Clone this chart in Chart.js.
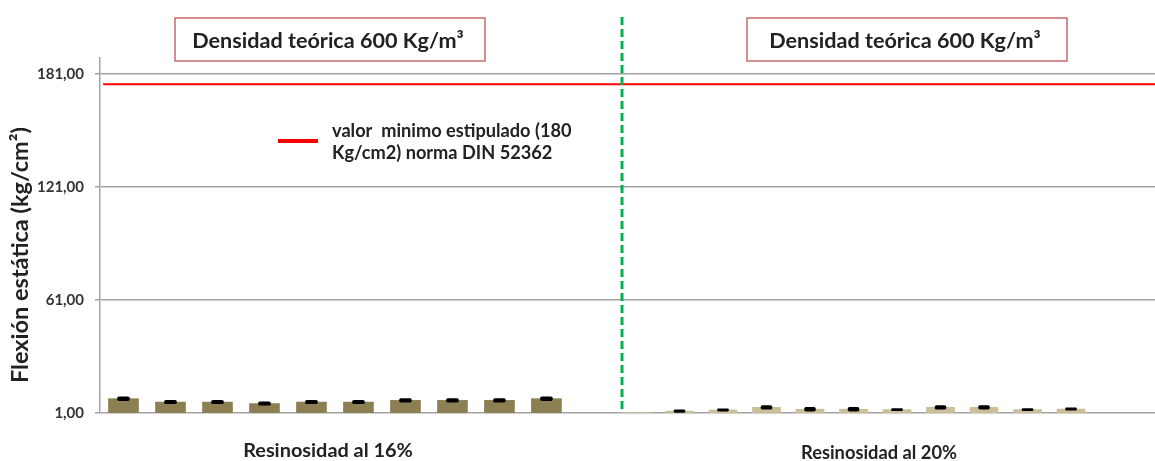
<!DOCTYPE html>
<html>
<head>
<meta charset="utf-8">
<script src="https://cdn.jsdelivr.net/npm/chart.js@4"></script>
<style>
  html, body { margin: 0; padding: 0; background: #fff; overflow: hidden; }
  #wrap { width: 1155px; height: 461px; position: relative; }
</style>
</head>
<body>
<div id="wrap"><canvas id="myChart"></canvas></div>
<script>
// muestras con resinosidad al 16% y al 20%
let samples16 = ["1", "2", "3", "4", "5", "6", "7", "8", "9", "10"];
let flexion16 = [8.6, 6.8, 6.8, 6.0, 6.8, 6.8, 7.7, 7.7, 7.7, 8.6];
let error16 = [1.0, 0.9, 0.9, 0.9, 0.9, 0.9, 0.9, 0.9, 0.9, 1.0];

let samples20 = ["1", "2", "3", "4", "5", "6", "7", "8", "9", "10", "11"];
let flexion20 = [1.3, 2.0, 2.6, 4.0, 3.0, 3.0, 2.8, 4.0, 4.0, 2.8, 3.1];
let error20 = [null, 0.7, 0.6, 1.0, 1.0, 1.0, 0.6, 1.0, 1.0, 0.6, 0.6];

let yTicks = [1, 61, 121, 181];
let minNorma = 175.5;

let groupLabels = ["Resinosidad al 16%", "Resinosidad al 20%"];
let headerText = "Densidad teórica 600 Kg/m³";
let legendLines = ["valor  minimo estipulado (180", "Kg/cm2) norma DIN 52362"];
let yTitle = "Flexión estática (kg/cm²)";

const FONT = "Lato, 'Open Sans', sans-serif";

// ajusta el tamaño de letra para que el texto ocupe un ancho dado
function fitFont(ctx, text, width) {
  ctx.font = "bold 20px " + FONT;
  let s = 20 * width / ctx.measureText(text).width;
  ctx.font = "bold " + s.toFixed(1) + "px " + FONT;
}

function errorData(values, errors) {
  return values.map((v, i) => ({x: i + 1, y: errors[i] == null ? null : [v - errors[i], v + errors[i]]}));
}

const extras = {
  id: 'extras',
  afterDraw(chart) {
    const ctx = chart.ctx;
    ctx.save();
    ctx.fillStyle = '#222';

    // cajas de titulo
    [[175, 18, 310, 43], [747, 18, 320, 43]].forEach(b => {
      ctx.strokeStyle = '#c96b6b';
      ctx.lineWidth = 1.5;
      ctx.strokeRect(b[0], b[1], b[2], b[3]);
      fitFont(ctx, headerText, 272);
      ctx.textAlign = 'center';
      ctx.textBaseline = 'middle';
      ctx.fillText(headerText, b[0] + b[2] / 2 - 2, 41);
    });

    // linea divisoria verde
    ctx.strokeStyle = '#00b050';
    ctx.lineWidth = 3;
    ctx.setLineDash([8, 4]);
    ctx.beginPath();
    ctx.moveTo(622, 17);
    ctx.lineTo(622, 410);
    ctx.stroke();
    ctx.setLineDash([]);

    // leyenda
    ctx.strokeStyle = 'red';
    ctx.lineWidth = 4;
    ctx.beginPath();
    ctx.moveTo(278, 141);
    ctx.lineTo(318, 141);
    ctx.stroke();
    fitFont(ctx, legendLines[0], 240);
    ctx.textAlign = 'left';
    ctx.fillText(legendLines[0], 332, 131);
    ctx.fillText(legendLines[1], 332, 153);

    // etiquetas de grupo
    ctx.textAlign = 'center';
    fitFont(ctx, groupLabels[0], 170);
    ctx.fillText(groupLabels[0], 328, 451);
    fitFont(ctx, groupLabels[1], 156);
    ctx.fillText(groupLabels[1], 879, 453);

    // titulo eje y
    ctx.translate(20, 255);
    ctx.rotate(-Math.PI / 2);
    fitFont(ctx, yTitle, 256);
    ctx.fillText(yTitle, 0, 0);
    ctx.restore();
  }
};

// eje x oculto (sin offset) para cada grupo
function hiddenX(min, max) {
  return { type: 'linear', position: 'bottom', display: false, offset: false, grid: { offset: false }, min: min, max: max };
}

let ctx = document.getElementById('myChart').getContext('2d');

const myChart = new Chart(ctx, {
  type: 'bar',
  data: {
    datasets: [
      {
        label: 'error 16%',
        data: errorData(flexion16, error16),
        xAxisID: 'xL',
        backgroundColor: '#000',
        maxBarThickness: 12,
        borderRadius: 3,
        borderSkipped: false,
        order: 0
      },
      {
        label: 'error 20%',
        data: errorData(flexion20, error20),
        xAxisID: 'xR',
        backgroundColor: '#000',
        maxBarThickness: 11,
        borderRadius: 3,
        borderSkipped: false,
        order: 0
      },
      {
        label: 'Resinosidad al 16%',
        data: samples16.map((s, i) => ({x: i + 1, y: flexion16[i]})),
        xAxisID: 'xL',
        backgroundColor: '#8c7f52',
        maxBarThickness: 30,
        order: 1
      },
      {
        label: 'Resinosidad al 20%',
        data: samples20.map((s, i) => ({x: i + 1, y: flexion20[i]})),
        xAxisID: 'xR',
        backgroundColor: '#cabf98',
        maxBarThickness: 28,
        order: 1
      },
      {
        type: 'line',
        label: 'valor minimo',
        data: [{x: 0, y: minNorma}, {x: 1, y: minNorma}],
        xAxisID: 'xLine',
        borderColor: 'red',
        borderWidth: 2,
        pointRadius: 0,
        order: 0
      }
    ]
  },
  options: {
    responsive: true,
    maintainAspectRatio: false,
    animation: false,
    datasets: { bar: { grouped: false, barPercentage: 1, categoryPercentage: 1 } },
    layout: { autoPadding: false, padding: { top: 58, bottom: 48, left: 0, right: 0 } },
    plugins: { legend: { display: false }, tooltip: { enabled: false } },
    scales: {
      xL: hiddenX(0.5, 22.95),
      xR: hiddenX(-11.32, 12.93),
      xLine: hiddenX(-0.003, 1),
      y: {
        min: 1,
        max: 189.5,
        afterBuildTicks: s => { s.ticks = yTicks.map(v => ({value: v})); },
        afterFit: s => { s.width = 100; },
        grid: { color: '#a3a3a3', lineWidth: 1.5, tickLength: 5 },
        border: { color: '#a3a3a3', width: 1.5 },
        ticks: {
          padding: 11,
          color: '#333',
          font: { family: FONT, size: 15, weight: 'bold' },
          callback: v => v.toFixed(2).replace('.', ',')
        }
      }
    }
  },
  plugins: [extras]
});
</script>
</body>
</html>
